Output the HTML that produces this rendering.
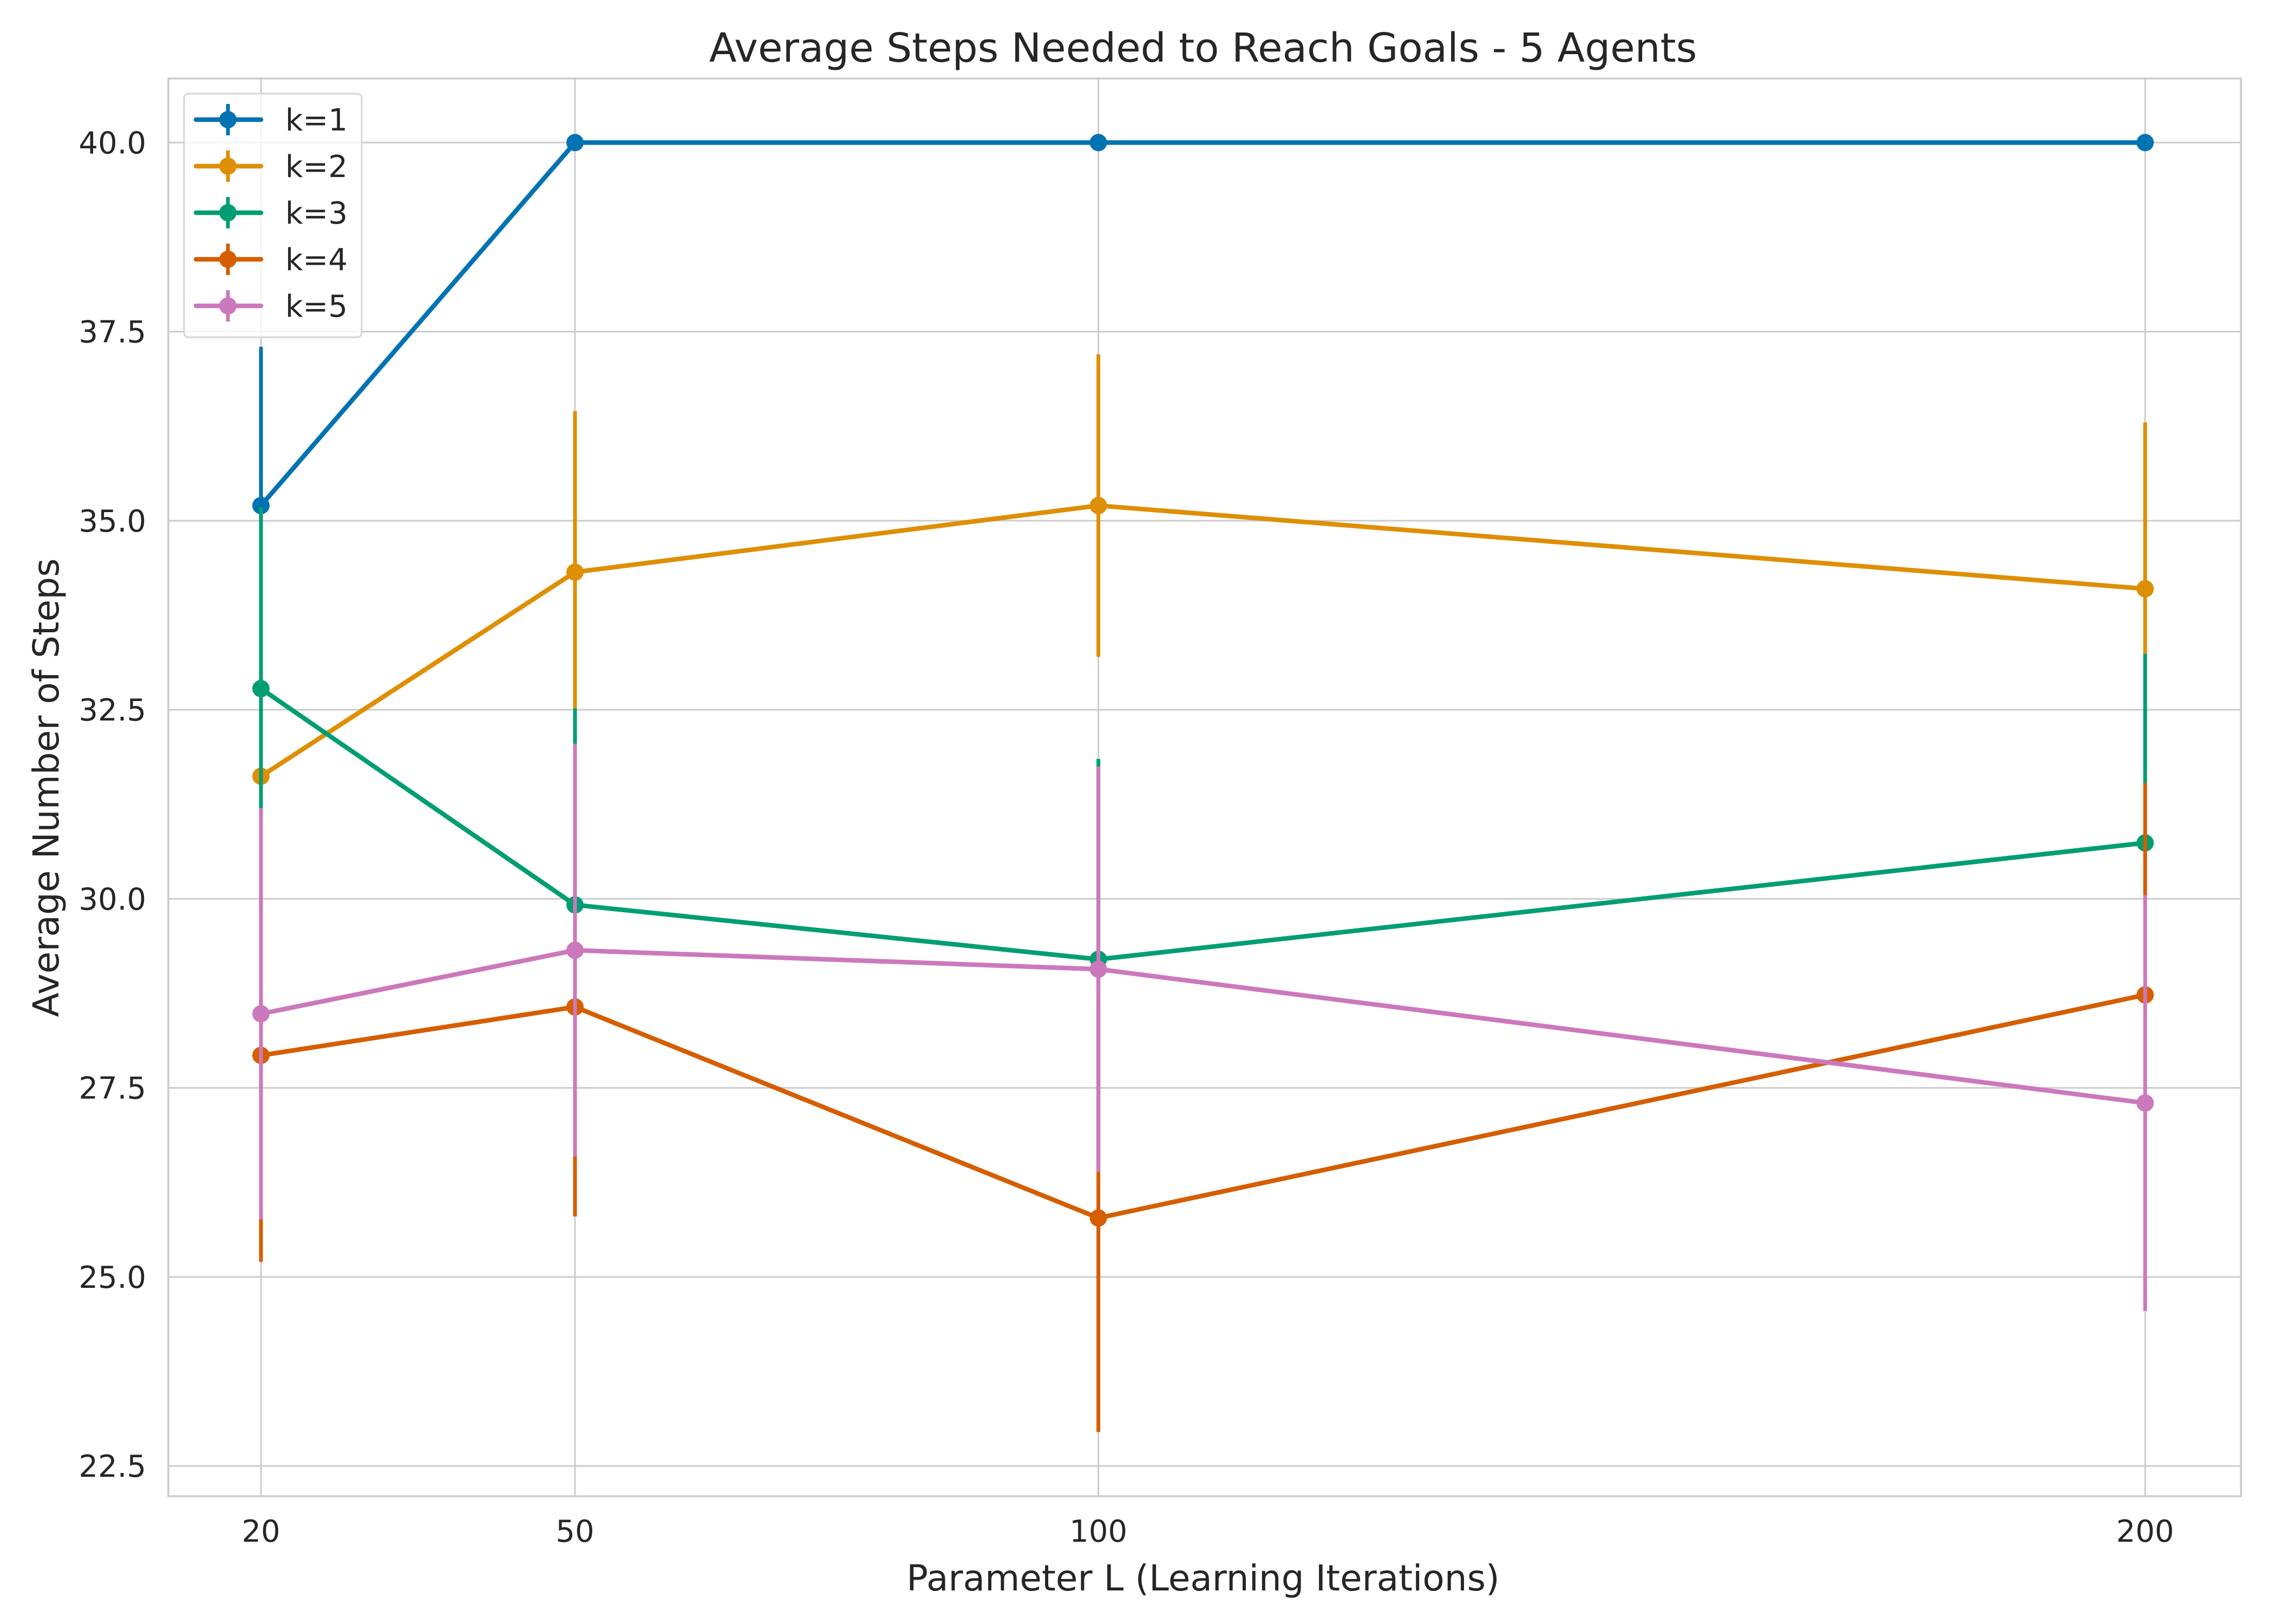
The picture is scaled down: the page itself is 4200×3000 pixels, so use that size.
<!DOCTYPE html>
<html><head><meta charset="utf-8"><style>
html,body{margin:0;padding:0;background:#fff;}
svg{display:block;font-family:"DejaVu Sans","Liberation Sans",sans-serif;}
</style></head><body>
<svg id="chart" width="4200" height="3000" viewBox="0 0 4200 3000" xmlns="http://www.w3.org/2000/svg">
<rect width="4200" height="3000" fill="#fff"/>
<g id="grid"></g>
<g id="series"></g>
<rect x="311" y="145" width="3828" height="2619" fill="none" stroke="#cccccc" stroke-width="3.5"/>
<g id="ticks"></g>
<text x="2222" y="114" font-size="74" fill="#262626" text-anchor="middle">Average Steps Needed to Reach Goals - 5 Agents</text>
<text x="2222" y="2938" font-size="66" fill="#262626" text-anchor="middle">Parameter L (Learning Iterations)</text>
<text transform="translate(108,1455) rotate(-90)" font-size="66" fill="#262626" text-anchor="middle">Average Number of Steps</text>
<g id="legend"></g>
</svg>
<script>
const categories = [20, 50, 100, 200];
const seriesNames = ["k=1", "k=2", "k=3", "k=4", "k=5"];
const colors = ["#0173b2", "#de8f05", "#029e73", "#d55e00", "#cc78bc"];
const k1 = [35.2, 40.0, 40.0, 40.0];
const k2 = [31.62, 34.32, 35.2, 34.1];
const k3 = [32.78, 29.92, 29.2, 30.74];
const k4 = [27.93, 28.57, 25.78, 28.73];
const k5 = [28.48, 29.32, 29.07, 27.3];
const e1 = [2.1, 0, 0, 0];
const e2 = [1.5, 2.13, 2.0, 2.2];
const e3 = [2.4, 2.6, 2.65, 2.5];
const e4 = [2.73, 2.77, 2.83, 2.8];
const e5 = [2.72, 2.73, 2.68, 2.75];
const yTicks = [22.5, 25.0, 27.5, 30.0, 32.5, 35.0, 37.5, 40.0];
const xTicks = [20, 50, 100, 200];

const NS = "http://www.w3.org/2000/svg";
const L = 311, R = 4139, T = 145, B = 2764;
function xs(v){ return 482 + (v - 20) * (3962 - 482) / 180; }
function ys(v){ return 263.4 + (40 - v) * 139.7; }
function mk(tag, attrs, parent){
  const el = document.createElementNS(NS, tag);
  for (const k in attrs) el.setAttribute(k, attrs[k]);
  parent.appendChild(el);
  return el;
}
const grid = document.getElementById('grid');
const ticks = document.getElementById('ticks');
yTicks.forEach(v => {
  const g = mk('line', {x1: L, x2: R, y1: ys(v), y2: ys(v), stroke: '#cccccc', 'stroke-width': 3}, grid);
  
  
  const t = mk('text', {x: 270, y: ys(v) + 20, 'font-size': 56, fill: '#262626', 'text-anchor': 'end'}, ticks);
  t.textContent = v.toFixed(1);
  
  
});
xTicks.forEach(v => {
  const g = mk('line', {x1: xs(v), x2: xs(v), y1: T, y2: B, stroke: '#cccccc', 'stroke-width': 3}, grid);
  
  
  const t = mk('text', {x: xs(v), y: 2848, 'font-size': 56, fill: '#262626', 'text-anchor': 'middle'}, ticks);
  t.textContent = String(v);
  
  
});
const vals = [k1, k2, k3, k4, k5];
const errs = [e1, e2, e3, e4, e5];
const sg = document.getElementById('series');
vals.forEach((arr, i) => {
  const g = mk('g', {}, sg);
  
  
  arr.forEach((v, j) => {
    const eb = mk('line', {x1: xs(categories[j]), x2: xs(categories[j]), y1: ys(v - errs[i][j]), y2: ys(v + errs[i][j]), stroke: colors[i], 'stroke-width': 7}, g);
    
    
  });
  const pl = mk('polyline', {points: arr.map((v, j) => xs(categories[j]) + ',' + ys(v)).join(' '), fill: 'none', stroke: colors[i], 'stroke-width': 8.5, 'stroke-linejoin': 'round', 'stroke-linecap': 'round'}, g);
  
  
  arr.forEach((v, j) => {
    const c = mk('circle', {cx: xs(categories[j]), cy: ys(v), r: 16, fill: colors[i]}, g);
    
    
  });
});
const lg = document.getElementById('legend');
const box = mk('rect', {x: 340, y: 173, width: 328, height: 450, rx: 8, fill: '#ffffff', 'fill-opacity': 0.8, stroke: '#d6d6d6', 'stroke-width': 3}, lg);


seriesNames.forEach((n, i) => {
  const y = 221 + i * 86;
  const g = mk('g', {}, lg);
  
  
  mk('line', {x1: 362, x2: 482, y1: y, y2: y, stroke: colors[i], 'stroke-width': 8.5, 'stroke-linecap': 'round'}, g);
  mk('line', {x1: 421, x2: 421, y1: y - 29, y2: y + 29, stroke: colors[i], 'stroke-width': 7}, g);
  mk('circle', {cx: 421, cy: y, r: 16, fill: colors[i]}, g);
  const t = mk('text', {x: 527, y: y + 20, 'font-size': 56, fill: '#262626'}, g);
  t.textContent = n;
});
</script>
</body></html>
